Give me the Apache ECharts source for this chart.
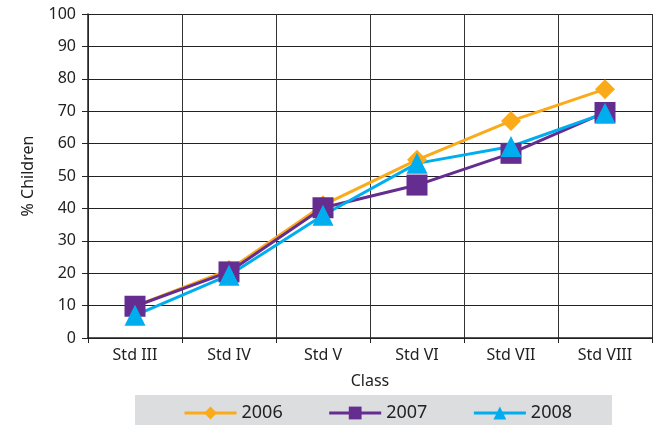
<!DOCTYPE html>
<html><head><meta charset="utf-8">
<script src="https://cdn.jsdelivr.net/npm/echarts@6/dist/echarts.min.js"></script>
<style>html,body{margin:0;padding:0;background:#fff}#c{width:664px;height:425px}</style>
</head><body><div id="c"></div>
<script>
var categories = ['Std III','Std IV','Std V','Std VI','Std VII','Std VIII'];
var s2006 = [9.8, 21, 41, 55, 67, 76.8];
var s2007 = [9.8, 20.4, 40.2, 47.2, 57, 69.6];
var s2008 = [7, 19.4, 37.9, 53.9, 59.1, 69.4];
var yTicks = [0,10,20,30,40,50,60,70,80,90,100];
var FONT = '"Noto Sans", sans-serif';
var chart = echarts.init(document.getElementById('c'));
function ser(name, data, color, symbol, size){
  return {name:name, type:'line', data:data, symbol:symbol, symbolSize:size,
    lineStyle:{color:color,width:3}, itemStyle:{color:color}, color:color, animation:false, z:3};
}
chart.setOption({
  animation:false,
  graphic:[{type:'rect', left:135, top:395, shape:{width:477,height:30}, style:{fill:'#DCDDDE'}, z:-1}],
  grid:{left:88, right:12, top:14, bottom:87},
  legend:{top:399, left:178, itemWidth:52, itemHeight:16, itemGap:45,
    lineStyle:{width:3},
    textStyle:{fontFamily:FONT, fontSize:18, color:'#222'},
    data:['2006','2007','2008']},
  xAxis:{type:'category', data:categories, boundaryGap:true,
    name:'Class', nameLocation:'middle', nameGap:35,
    nameTextStyle:{fontFamily:FONT, fontSize:16, color:'#222'},
    axisLine:{lineStyle:{color:'#222',width:1.5}},
    axisTick:{show:true, length:5, lineStyle:{color:'#222'}},
    axisLabel:{fontFamily:FONT, fontSize:16, color:'#222', margin:9},
    splitLine:{show:true, lineStyle:{color:'#333',width:1}}},
  yAxis:{type:'value', min:0, max:100, interval:10,
    name:'% Children', nameLocation:'middle', nameGap:52,
    nameTextStyle:{fontFamily:FONT, fontSize:16, color:'#222'},
    axisLine:{show:true, lineStyle:{color:'#222',width:1.5}},
    axisTick:{show:true, length:6, lineStyle:{color:'#222'}},
    axisLabel:{fontFamily:FONT, fontSize:16, color:'#222', margin:12,
      formatter:function(v){return yTicks.indexOf(v)>=0?String(v):'';}},
    splitLine:{show:true, lineStyle:{color:'#222',width:1}}},
  series:[
    ser('2006', s2006, '#FBAA19', 'diamond', 20),
    ser('2007', s2007, '#662D91', 'rect', 21),
    ser('2008', s2008, '#00AEEF', 'triangle', 21)
  ]
});
</script></body></html>
